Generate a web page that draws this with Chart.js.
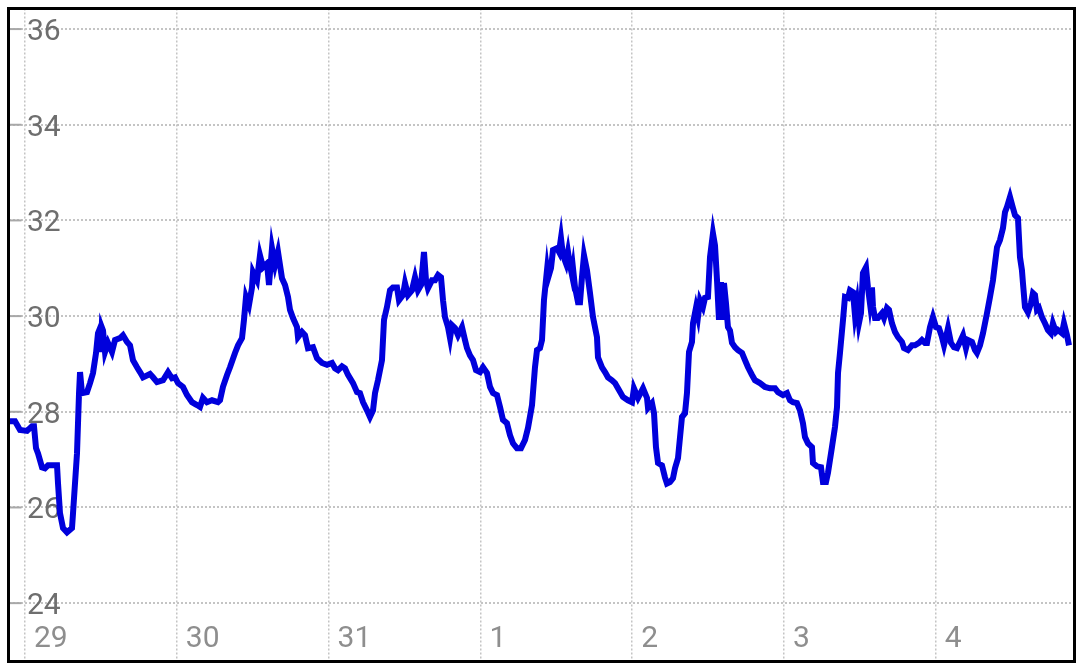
<!DOCTYPE html>
<html>
<head>
<meta charset="utf-8">
<title>Temperature</title>
<script src="https://cdn.jsdelivr.net/npm/chart.js@4/dist/chart.umd.min.js"></script>
<style>
    html, body { margin: 0; padding: 0; background: #fff; }
    #wrap { width: 1080px; height: 671px; position: relative; }
</style>
</head>
<body>
<div id="wrap"><canvas id="tempChart"></canvas></div>
<script>
// Hours since the 29th 00:00, and the reading at that time
const hours = [
    -2.37, -1.58, -0.79, 0.32, 1.11, 1.42, 1.74, 2.06, 2.69, 3.16, 3.64, 5.06, 5.22, 5.53, 6.01, 6.64,
    7.43, 7.59, 8.22, 8.54, 8.70, 9.01, 9.80, 10.28, 10.75, 11.23, 11.54, 11.75, 11.97, 12.13, 12.33,
    12.65, 13.12, 13.75, 14.23, 15.02, 15.49, 16.13, 16.60, 17.07, 17.71, 18.18, 18.66, 19.76, 20.24,
    20.87, 21.82, 22.61, 23.24, 23.72, 24.19, 24.98, 25.61, 26.40, 27.19, 27.67, 28.14, 28.77, 29.56,
    30.51, 30.83, 31.30, 31.94, 32.41, 33.20, 33.68, 34.31, 34.62, 34.94, 35.41, 35.89, 36.05, 36.68,
    37.15, 37.63, 38.26, 38.58, 39.05, 39.53, 40.00, 40.63, 41.11, 41.58, 41.90, 42.37, 43.00, 43.16,
    43.79, 44.27, 44.74, 45.53, 46.17, 46.96, 47.75, 48.54, 49.01, 49.49, 50.12, 50.59, 51.07, 51.86,
    52.49, 52.96, 53.44, 54.07, 54.54, 55.02, 55.34, 55.81, 56.44, 56.76, 57.23, 57.71, 58.18, 58.81,
    59.13, 59.76, 60.08, 60.55, 61.18, 61.66, 62.13, 62.61, 63.08, 63.40, 63.71, 64.35, 64.82, 65.30,
    65.77, 66.09, 66.40, 66.88, 67.20, 67.51, 67.98, 68.46, 69.09, 69.56, 69.88, 70.35, 70.83, 71.30,
    71.94, 72.41, 73.04, 73.52, 73.99, 74.62, 75.10, 75.57, 76.20, 76.68, 77.15, 77.78, 78.42, 79.05,
    79.52, 80.16, 80.63, 80.95, 81.42, 81.74, 82.05, 82.53, 82.69, 83.16, 83.48, 84.11, 84.43, 84.74,
    85.06, 85.53, 85.85, 86.16, 86.48, 86.64, 86.96, 87.43, 87.75, 88.06, 88.38, 88.85, 89.33, 89.80,
    90.43, 90.59, 91.22, 91.70, 92.17, 92.80, 93.28, 93.75, 94.54, 95.33, 95.97, 96.28, 96.92, 97.71,
    98.34, 98.50, 99.13, 99.45, 99.76, 100.08, 100.71, 101.18, 101.50, 101.97, 102.45, 102.77, 103.24,
    103.87, 104.35, 104.66, 104.98, 105.45, 105.61, 106.08, 106.40, 106.72, 107.19, 107.51, 107.98,
    108.30, 108.77, 109.09, 109.41, 109.72, 110.04, 110.35, 110.51, 110.83, 111.14, 111.46, 111.78,
    112.25, 112.73, 113.36, 113.83, 114.31, 114.94, 115.41, 116.20, 116.99, 117.78, 118.58, 119.05,
    119.84, 120.47, 120.95, 121.42, 122.05, 122.53, 123.00, 123.32, 123.79, 124.42, 124.58, 125.21,
    125.85, 126.16, 126.64, 126.95, 127.58, 128.06, 128.38, 128.54, 128.85, 129.33, 129.64, 130.12,
    130.43, 130.91, 131.22, 131.54, 131.85, 132.17, 132.48, 132.96, 133.27, 133.59, 133.91, 134.07,
    134.39, 134.86, 135.49, 135.81, 136.28, 136.60, 137.07, 137.55, 138.02, 138.65, 138.97, 139.60,
    140.23, 140.71, 141.34, 141.81, 142.29, 142.61, 143.08, 143.55, 144.03, 144.50, 144.98, 145.30,
    145.61, 145.93, 146.40, 146.87, 147.35, 147.82, 148.30, 148.77, 149.09, 149.72, 150.20, 150.51,
    150.99, 151.46, 152.09, 152.57, 153.04, 153.36, 153.68, 154.15, 154.62, 154.94, 155.25, 155.73,
    156.20, 156.52, 156.99, 157.31, 157.62, 157.78, 158.10, 158.57, 159.05, 159.36, 159.68, 159.99,
    160.31, 160.78, 161.26, 161.73, 162.21, 162.52, 163.00, 163.31, 163.95, 164.26, 164.74, 165.06
];

const temps = [
    27.80, 27.80, 27.62, 27.60, 27.70, 27.70, 27.24, 27.13, 26.84, 26.82, 26.88, 26.88, 26.50, 25.88, 25.57, 25.48,
    25.57, 25.88, 27.13, 28.39, 28.83, 28.39, 28.41, 28.60, 28.81, 29.23, 29.64, 29.71, 29.25, 29.77, 29.70,
    29.25, 29.44, 29.25, 29.50, 29.54, 29.60, 29.46, 29.39, 29.08, 28.93, 28.83, 28.72, 28.79, 28.72,
    28.62, 28.66, 28.83, 28.70, 28.72, 28.60, 28.52, 28.35, 28.20, 28.14, 28.10, 28.29, 28.20, 28.24,
    28.20, 28.24, 28.52, 28.77, 28.93, 29.23, 29.39, 29.54, 29.92, 30.40, 30.23, 30.60, 30.92, 30.75,
    31.27, 31.02, 31.10, 30.65, 31.42, 31.07, 31.34, 30.79, 30.65, 30.40, 30.13, 29.96, 29.77, 29.56,
    29.67, 29.60, 29.33, 29.35, 29.12, 29.02, 28.98, 29.02, 28.91, 28.87, 28.95, 28.91, 28.77, 28.60,
    28.41, 28.39, 28.20, 28.03, 27.89, 28.03, 28.39, 28.66, 29.08, 29.92, 30.19, 30.54, 30.60, 30.60,
    30.33, 30.44, 30.69, 30.44, 30.54, 30.81, 30.54, 30.65, 31.34, 30.75, 30.58, 30.75, 30.75, 30.86,
    30.81, 30.33, 29.98, 29.77, 29.54, 29.81, 29.75, 29.60, 29.77, 29.50, 29.33, 29.18, 29.08, 28.87,
    28.83, 28.93, 28.81, 28.52, 28.39, 28.35, 28.10, 27.83, 27.76, 27.51, 27.34, 27.24, 27.24, 27.41,
    27.66, 28.14, 28.93, 29.29, 29.33, 29.50, 30.33, 30.96, 30.79, 31.00, 31.38, 31.42, 31.34, 31.63,
    31.27, 31.10, 31.34, 31.07, 30.86, 31.00, 30.60, 30.29, 30.29, 30.81, 31.27, 30.96, 30.48, 29.98,
    29.56, 29.14, 28.93, 28.83, 28.72, 28.66, 28.60, 28.49, 28.31, 28.24, 28.20, 28.49, 28.29, 28.49,
    28.29, 28.08, 28.18, 27.97, 27.26, 26.93, 26.88, 26.63, 26.50, 26.53, 26.61, 26.82, 27.03,
    27.89, 27.97, 28.39, 29.25, 29.46, 29.85, 30.17, 29.98, 30.33, 30.19, 30.38, 30.40,
    31.23, 31.73, 31.48, 30.75, 29.92, 30.71, 29.92, 30.69, 30.27, 29.77, 29.70, 29.44,
    29.35, 29.29, 29.23, 29.08, 28.93, 28.77, 28.66, 28.60, 28.52, 28.49, 28.49, 28.41,
    28.35, 28.39, 28.24, 28.20, 28.18, 28.03, 27.76, 27.47, 27.34, 27.26, 26.93, 26.86,
    26.84, 26.53, 26.53, 26.72, 27.26, 27.68, 28.10, 28.81, 29.23, 29.92, 30.40, 30.38,
    30.54, 30.50, 30.02, 30.27, 29.85, 30.06, 30.90, 31.02, 30.60, 30.27, 30.60, 30.19,
    29.96, 29.96, 30.06, 29.96, 30.17, 30.13, 29.85, 29.67, 29.56, 29.46, 29.33, 29.29,
    29.39, 29.39, 29.44, 29.50, 29.44, 29.44, 29.77, 29.98, 29.77, 29.75, 29.56, 29.39,
    29.56, 29.75, 29.44, 29.35, 29.33, 29.46, 29.60, 29.33, 29.50, 29.46, 29.29, 29.23,
    29.39, 29.64, 30.06, 30.40, 30.75, 31.10, 31.44, 31.59, 31.84, 32.17, 32.28, 32.49,
    32.26, 32.11, 32.05, 31.23, 30.96, 30.69, 30.19, 30.08, 30.27, 30.48, 30.44, 30.13,
    30.17, 29.98, 29.85, 29.71, 29.64, 29.85, 29.67, 29.71, 29.64, 29.85, 29.60, 29.39
];

// Axis ticks: one per day at midnight, and every 2 degrees
const dayTicks = [0, 24, 48, 72, 96, 120, 144];
const dayLabels = ['29', '30', '31', '1', '2', '3', '4'];
const tempTicks = [24, 26, 28, 30, 32, 34, 36];

document.addEventListener('DOMContentLoaded', () => {
    initializeTempChart();
});

// Frame, left tick dashes and labels drawn inside the plot
const insideLabels = {
    id: 'insideLabels',
    beforeDatasetsDraw(chart) {
        const { ctx, chartArea: area, scales: { x, y } } = chart;
        const x0 = x.getPixelForValue(0);
        ctx.save();
        ctx.font = '30px Roboto';
        ctx.textAlign = 'left';
        ctx.textBaseline = 'alphabetic';

        tempTicks.forEach(value => {
            const py = y.getPixelForValue(value);
            ctx.strokeStyle = '#a8a8a8';
            ctx.lineWidth = 2;
            ctx.setLineDash([]);
            ctx.beginPath();
            ctx.moveTo(area.left, py);
            ctx.lineTo(area.left + 13, py);
            ctx.stroke();
            ctx.fillStyle = '#6e6e6e';
            ctx.fillText(String(value), x0 + 2, py + 11);
        });

        ctx.fillStyle = '#8e8e8e';
        dayTicks.forEach((value, i) => {
            ctx.fillText(dayLabels[i], x.getPixelForValue(value) + 9, area.bottom - 15);
        });
        ctx.restore();
    },
    afterDraw(chart) {
        const { ctx, chartArea: area } = chart;
        ctx.save();
        ctx.strokeStyle = '#000';
        ctx.lineWidth = 3;
        ctx.strokeRect(area.left, area.top, area.right - area.left, area.bottom - area.top);
        ctx.restore();
    }
};

function initializeTempChart() {
    const canvas = document.getElementById('tempChart');
    if (!canvas) return;

    new Chart(canvas.getContext('2d'), {
        type: 'line',
        data: {
            datasets: [{
                data: hours.map((h, i) => ({ x: h, y: temps[i] })),
                borderColor: '#0000dc',
                borderWidth: 6,
                pointRadius: 0,
                tension: 0,
                fill: false
            }]
        },
        options: {
            responsive: true,
            maintainAspectRatio: false,
            animation: false,
            layout: {
                padding: { left: 8.5, top: 8.5, right: 5.5, bottom: 9.5 }
            },
            plugins: {
                legend: { display: false },
                tooltip: { enabled: false }
            },
            scales: {
                x: {
                    type: 'linear',
                    min: -2.61,
                    max: 165.93,
                    afterBuildTicks: scale => {
                        scale.ticks = dayTicks.map(v => ({ value: v }));
                    },
                    ticks: { display: false },
                    grid: {
                        color: '#c4c4c4',
                        lineWidth: 1.5,
                        drawTicks: false
                    },
                    border: { display: false, dash: [2, 2] }
                },
                y: {
                    min: 22.78,
                    max: 36.43,
                    afterBuildTicks: scale => {
                        scale.ticks = tempTicks.map(v => ({ value: v }));
                    },
                    ticks: { display: false },
                    grid: {
                        color: '#c4c4c4',
                        lineWidth: 2,
                        drawTicks: false
                    },
                    border: { display: false, dash: [2, 2] }
                }
            }
        },
        plugins: [insideLabels]
    });
}
</script>
</body>
</html>
